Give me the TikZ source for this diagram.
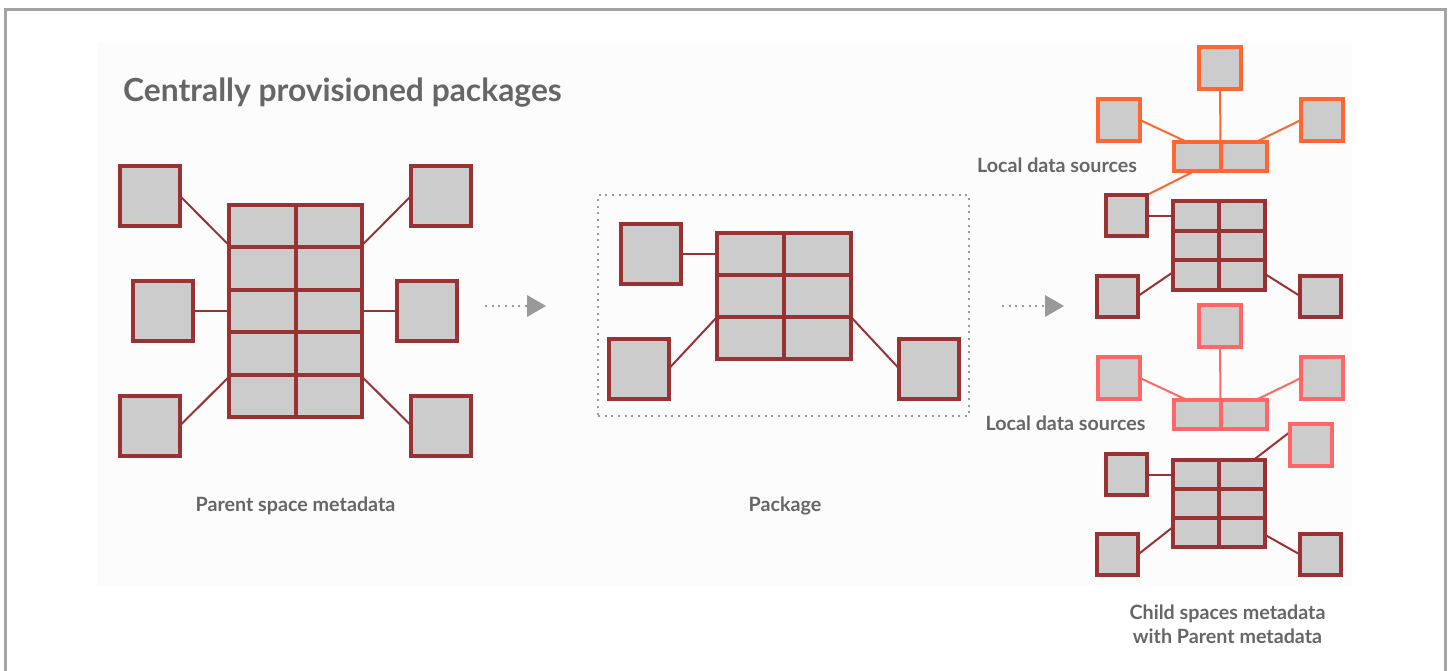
\documentclass[tikz,border=0pt]{standalone}
\usepackage{fontspec}
\setmainfont{Lato}
\usetikzlibrary{calc,arrows.meta}
\definecolor{wine}{HTML}{993333}
\definecolor{tangerine}{HTML}{FF6633}
\definecolor{coral}{HTML}{FF6666}
\definecolor{cellgray}{HTML}{CCCCCC}
\definecolor{labelgray}{HTML}{666666}
\definecolor{framegray}{HTML}{A3A3A3}
\definecolor{dotgray}{HTML}{999999}
\definecolor{panel}{HTML}{FCFCFC}
\pgfdeclarelayer{backdrop}
\pgfdeclarelayer{links}
\pgfsetlayers{backdrop,links,main}
\tikzset{
  sqbox/.style={draw=#1, fill=cellgray, line width=4pt, inner sep=0pt, outer sep=0pt, rectangle},
  sqbox/.default=wine,
  divider/.style={draw=#1, line width=4pt},
  divider/.default=wine,
  link/.style={draw=#1, line width=2pt},
  link/.default=wine,
  dotline/.style={draw=dotgray, line width=2pt, dash pattern=on 2pt off 4.67pt},
  flow/.style={dotline, -{Triangle[length=19pt,width=22pt,line width=0pt]}},
  lbl/.style={text=labelgray, font=\fontsize{19.7}{23}\selectfont\bfseries, inner sep=0pt, anchor=base},
}
\begin{document}
\begin{tikzpicture}[x=1pt,y=-1pt]
\useasboundingbox (0,0) rectangle (1449,670);
% page frame and panel
\begin{pgfonlayer}{backdrop}
\fill[panel] (97,43) rectangle (1352,585);
\draw[framegray, line width=2.6pt] (5.5,672) -- (5.5,9.3) -- (1445.3,9.3) -- (1445.3,672);
\end{pgfonlayer}

% title
\node[text=labelgray, font=\fontsize{31.8}{38}\selectfont\bfseries, inner sep=0pt, anchor=base west] (title) at (123,101) {Centrally provisioned packages};

% ---------- parent space metadata ----------
\node[sqbox, minimum width=133pt, minimum height=212pt] (GL) at (295.5,311) {};
\draw[divider] (GL.north) -- (GL.south);
\foreach \k in {0.2,0.4,0.6,0.8}
  \draw[divider] ($(GL.north west)!\k!(GL.south west)$) -- ($(GL.north east)!\k!(GL.south east)$);
\node[sqbox, minimum size=60pt] (L1) at (150,196) {};
\node[sqbox, minimum size=60pt] (L2) at (162.5,311) {};
\node[sqbox, minimum size=60pt] (L3) at (150,425.5) {};
\node[sqbox, minimum size=60pt] (R1) at (441,196) {};
\node[sqbox, minimum size=60pt] (R2) at (427,311) {};
\node[sqbox, minimum size=60pt] (R3) at (441,425.5) {};
\begin{pgfonlayer}{links}
\draw[link] (L1.east) -- ($(GL.north west)!0.19!(GL.south west)$);
\draw[link] (L2.east) -- (GL.west);
\draw[link] (L3.east) -- ($(GL.north west)!0.81!(GL.south west)$);
\draw[link] (R1.west) -- ($(GL.north east)!0.19!(GL.south east)$);
\draw[link] (R2.west) -- (GL.east);
\draw[link] (R3.west) -- ($(GL.north east)!0.81!(GL.south east)$);
\end{pgfonlayer}
\node[lbl] (lparent) at (295.5,511) {Parent space metadata};

% ---------- arrows ----------
\coordinate (a1s) at (485,306);
\coordinate (a1e) at (546,306);
\coordinate (a2s) at (1002,306);
\coordinate (a2e) at (1064,306);
\draw[flow] (a1s) -- (a1e);
\draw[flow] (a2s) -- (a2e);

% ---------- package ----------
\node[draw=dotgray, line width=2pt, dash pattern=on 2pt off 4.67pt, inner sep=0pt, minimum width=371pt, minimum height=221pt] (pkg) at (783.5,305.5) {};
\node[sqbox, minimum width=134pt, minimum height=126pt] (GM) at (784,296) {};
\draw[divider] (GM.north) -- (GM.south);
\foreach \k in {0.3333,0.6667}
  \draw[divider] ($(GM.north west)!\k!(GM.south west)$) -- ($(GM.north east)!\k!(GM.south east)$);
\node[sqbox, minimum size=60pt] (M1) at (651,253.5) {};
\node[sqbox, minimum size=60pt] (M2) at (639,368.5) {};
\node[sqbox, minimum size=60pt] (M3) at (929,368.5) {};
\begin{pgfonlayer}{links}
\draw[link] (M1.east) -- (M1.east -| GM.west);
\draw[link] (M2.east) -- ($(GM.north west)!0.6667!(GM.south west)$);
\draw[link] (M3.west) -- ($(GM.north east)!0.6667!(GM.south east)$);
\end{pgfonlayer}
\node[lbl] (lpkg) at (785,511) {Package};

% ---------- child space 1 ----------
\node[sqbox=tangerine, minimum size=42pt] (T0) at (1220,68) {};
\node[sqbox=tangerine, minimum size=42pt] (TL) at (1119,120) {};
\node[sqbox=tangerine, minimum size=42pt] (TR) at (1322,120) {};
\node[sqbox=tangerine, minimum width=93pt, minimum height=29pt] (TB) at (1220.5,156.5) {};
\draw[divider=tangerine] (TB.north) -- (TB.south);
\node[sqbox, minimum width=92pt, minimum height=89pt] (GA) at (1219,245.5) {};
\draw[divider] (GA.north) -- (GA.south);
\foreach \k in {0.3333,0.6667}
  \draw[divider] ($(GA.north west)!\k!(GA.south west)$) -- ($(GA.north east)!\k!(GA.south east)$);
\node[sqbox, minimum size=41pt] (D1) at (1126.5,215.5) {};
\node[sqbox, minimum size=41pt] (D2) at (1117.5,296) {};
\node[sqbox, minimum size=41pt] (D3) at (1320.5,296) {};
\begin{pgfonlayer}{links}
\draw[link=tangerine] (T0.south) -- (TB.north);
\draw[link=tangerine] (TL.east) -- ($(TB.north west)!0.14!(TB.north east)$);
\draw[link=tangerine] (TR.west) -- ($(TB.north west)!0.88!(TB.north east)$);
\draw[link=tangerine] ($(TB.south west)!0.22!(TB.south east)$) -- (D1.north east);
\draw[link] (D1.east) -- (D1.east -| GA.west);
\draw[link] (D2.east) -- ($(GA.north west)!0.8!(GA.south west)$);
\draw[link] (D3.west) -- ($(GA.north east)!0.82!(GA.south east)$);
\end{pgfonlayer}
\node[lbl] (lsrc1) at (1057,172) {Local data sources};

% ---------- child space 2 ----------
\node[sqbox=coral, minimum size=42pt] (S0) at (1220,326) {};
\node[sqbox=coral, minimum size=42pt] (SL) at (1119,378) {};
\node[sqbox=coral, minimum size=42pt] (SR) at (1322,378) {};
\node[sqbox=coral, minimum width=93pt, minimum height=29pt] (SB) at (1220.5,414.5) {};
\draw[divider=coral] (SB.north) -- (SB.south);
\node[sqbox=coral, minimum size=42pt] (S4) at (1311,444.5) {};
\node[sqbox, minimum width=92pt, minimum height=87pt] (GB) at (1219,503.5) {};
\draw[divider] (GB.north) -- (GB.south);
\foreach \k in {0.3333,0.6667}
  \draw[divider] ($(GB.north west)!\k!(GB.south west)$) -- ($(GB.north east)!\k!(GB.south east)$);
\node[sqbox, minimum size=41pt] (E1) at (1126.5,474.5) {};
\node[sqbox, minimum size=41pt] (E2) at (1117.5,554.5) {};
\node[sqbox, minimum size=41pt] (E3) at (1320.5,554.5) {};
\begin{pgfonlayer}{links}
\draw[link=coral] (S0.south) -- (SB.north);
\draw[link=coral] (SL.east) -- ($(SB.north west)!0.14!(SB.north east)$);
\draw[link=coral] (SR.west) -- ($(SB.north west)!0.88!(SB.north east)$);
\draw[link=coral] ($(SB.north east)!0.9!(SB.south east)$) -- ($(SB.north east)!0.9!(SB.south east)$ -| S4.west);
\draw[link] ($(S4.north west)!0.2!(S4.south west)$) -- ($(GB.north west)!0.875!(GB.north east)$);
\draw[link] (E1.east) -- (E1.east -| GB.west);
\draw[link] (E2.east) -- ($(GB.north west)!0.77!(GB.south west)$);
\draw[link] (E3.west) -- ($(GB.north east)!0.86!(GB.south east)$);
\end{pgfonlayer}
\node[lbl] (lsrc2) at (1065.5,430) {Local data sources};
\node[lbl] (lchild1) at (1227.5,619) {Child spaces metadata};
\node[lbl] (lchild2) at (1227.5,643) {with Parent metadata};
\end{tikzpicture}
\end{document}
